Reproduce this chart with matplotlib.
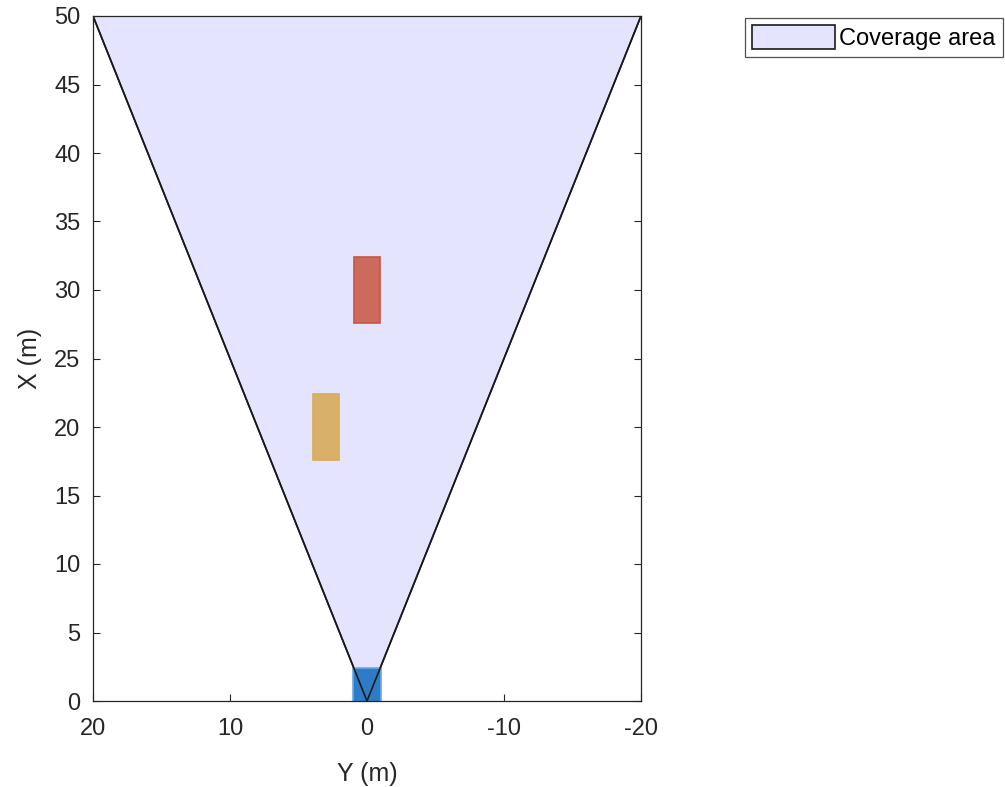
import matplotlib
matplotlib.use("Agg")
import matplotlib.pyplot as plt
from matplotlib.patches import Polygon, Rectangle

plt.rcParams['font.family'] = ['Liberation Sans', 'DejaVu Sans']

# Data
coverage_apex = (0.0, 0.0)          # (Y, X)
coverage_far_left = (20.0, 50.0)
coverage_far_right = (-20.0, 50.0)
# ego vehicle: Y center, X rear, X front, width
ego_yc, ego_x0, ego_x1, ego_w = 0.0, -1.0, 2.4, 2.0
# other cars
cars_yc = [0.0, 3.0]
cars_x0 = [27.6, 17.6]
cars_len = [4.8, 4.8]
cars_w = [1.9, 1.9]
cars_face = ['#CD6A5E', '#D8B06A']
cars_edge = ['#C9553F', '#DCAA55']
xticks = [20, 10, 0, -10, -20]
yticks = list(range(0, 51, 5))

fig = plt.figure(figsize=(10.05, 7.87), dpi=100)
W, H = 1005, 787
ax = fig.add_axes([93 / W, 1 - 701 / H, (641 - 93) / W, (701 - 16) / H])

cov = Polygon([coverage_apex, coverage_far_left, coverage_far_right], closed=True,
              facecolor=(0.894, 0.894, 1.0), edgecolor='#1a1a1a', linewidth=1.2,
              label='Coverage area', zorder=3)
ax.add_patch(cov)

for yc, x0, ln, w, fc, ec in zip(cars_yc, cars_x0, cars_len, cars_w, cars_face, cars_edge):
    ax.add_patch(Rectangle((yc + w / 2, x0), -w, ln, facecolor=fc,
                           edgecolor=ec, linewidth=1.2, zorder=4))

ax.add_patch(Rectangle((ego_yc + ego_w / 2, ego_x0), -ego_w, ego_x1 - ego_x0,
                       facecolor='#2E7CC8', edgecolor='#6AAAE0', linewidth=1.2,
                       zorder=3.5))
ax.plot([coverage_far_left[0], coverage_apex[0], coverage_far_right[0]],
        [coverage_far_left[1], coverage_apex[1], coverage_far_right[1]],
        color='#1a1a1a', linewidth=1.2, zorder=5)

ax.set_xlim(20, -20)
ax.set_ylim(0, 50)
ax.set_xticks(xticks)
ax.set_xticklabels([str(t) for t in xticks])
ax.set_yticks(yticks)
ax.tick_params(axis='both', direction='in', top=True, right=True, labelsize=17,
               length=5, width=0.8, colors='#262626')
ax.tick_params(axis='x', pad=12)
ax.tick_params(axis='y', pad=9)
for s in ax.spines.values():
    s.set_color('#262626')
    s.set_linewidth(0.9)
    s.set_zorder(6)
ax.set_xlabel('Y (m)', fontsize=18, color='#262626', labelpad=16)
ax.set_ylabel('X (m)', fontsize=18, color='#262626', labelpad=9)

leg = fig.legend(handles=[cov], labels=['Coverage area'],
                 loc='upper left', bbox_to_anchor=(745 / W, 1 - 18 / H),
                 fontsize=17, frameon=True, fancybox=False,
                 handlelength=3.5, handleheight=1.15, handletextpad=0.2,
                 borderpad=0.3, borderaxespad=0)
leg.get_frame().set_edgecolor('#262626')
leg.get_frame().set_linewidth(0.9)

fig.savefig('out.png', dpi=100)
